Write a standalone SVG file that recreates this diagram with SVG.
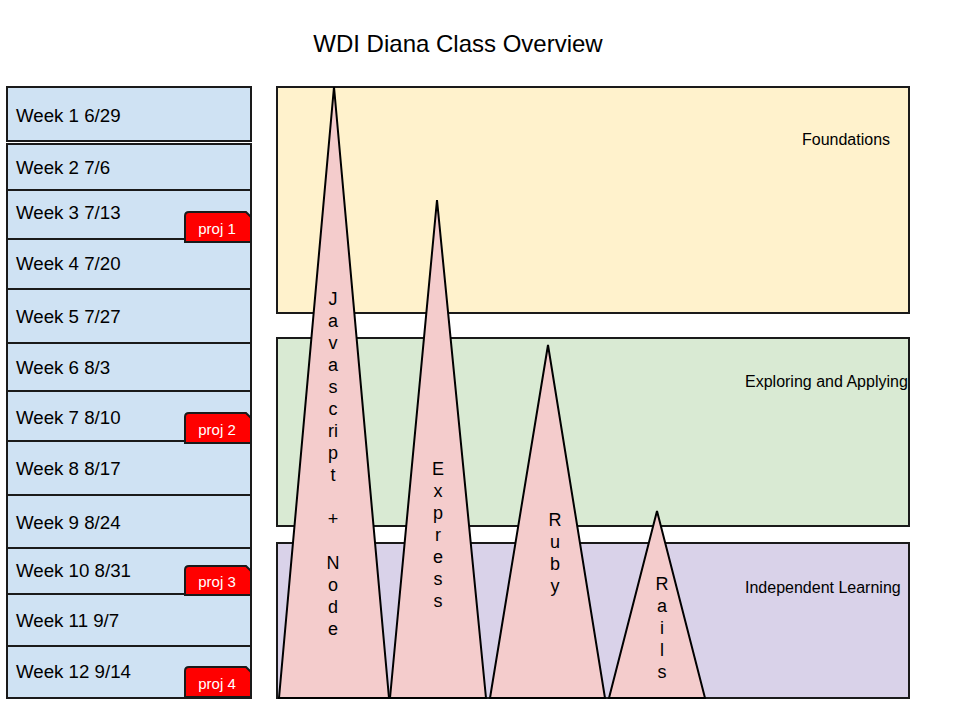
<svg xmlns="http://www.w3.org/2000/svg" width="960" height="720" viewBox="0 0 960 720">
<style>
text{font-family:"Liberation Sans",Arial,sans-serif;fill:#000}
.wk{fill:#cfe2f3;stroke:#1a1a1a;stroke-width:2}
.wt{font-size:18.7px}
.pj{fill:#ff0000;stroke:#1a1a1a;stroke-width:2}
.pt{font-size:15px;fill:#fff;text-anchor:middle}
.band{stroke:#1a1a1a;stroke-width:2}
.bt{font-size:16px}
.tri{fill:#f4cccc;stroke:#000;stroke-width:2;stroke-linejoin:miter}
.vt{font-size:18px;text-anchor:middle}
</style>
<rect width="960" height="720" fill="#fff"/>
<text x="458" y="52" font-size="24" text-anchor="middle">WDI Diana Class Overview</text>

<g id="bands">
<g id="foundations"><rect class="band" x="277" y="87" width="632" height="226" fill="#fff2cc"/><text class="bt" x="846" y="145" text-anchor="middle">Foundations</text></g>
<g id="exploring"><rect class="band" x="277" y="338" width="632" height="188" fill="#d9ead3"/><text class="bt" x="745" y="387">Exploring and Applying</text></g>
<g id="independent"><rect class="band" x="277" y="543" width="632" height="155" fill="#d9d2e9"/><text class="bt" x="745" y="593">Independent Learning</text></g>
</g>

<g id="weeks">
<g id="week1"><rect class="wk" x="7" y="87" width="244" height="54"/><text class="wt" x="16" y="122">Week 1 6/29</text></g>
<g id="week2"><rect class="wk" x="7" y="144" width="244" height="46"/><text class="wt" x="16" y="174">Week 2 7/6</text></g>
<g id="week3"><rect class="wk" x="7" y="190" width="244" height="49"/><text class="wt" x="16" y="219">Week 3 7/13</text></g>
<g id="week4"><rect class="wk" x="7" y="239" width="244" height="50"/><text class="wt" x="16" y="270">Week 4 7/20</text></g>
<g id="week5"><rect class="wk" x="7" y="289" width="244" height="54"/><text class="wt" x="16" y="323">Week 5 7/27</text></g>
<g id="week6"><rect class="wk" x="7" y="343" width="244" height="48"/><text class="wt" x="16" y="374">Week 6 8/3</text></g>
<g id="week7"><rect class="wk" x="7" y="391" width="244" height="50"/><text class="wt" x="16" y="424">Week 7 8/10</text></g>
<g id="week8"><rect class="wk" x="7" y="441" width="244" height="54"/><text class="wt" x="16" y="475">Week 8 8/17</text></g>
<g id="week9"><rect class="wk" x="7" y="495" width="244" height="53"/><text class="wt" x="16" y="529">Week 9 8/24</text></g>
<g id="week10"><rect class="wk" x="7" y="548" width="244" height="46"/><text class="wt" x="16" y="577">Week 10 8/31</text></g>
<g id="week11"><rect class="wk" x="7" y="594" width="244" height="52"/><text class="wt" x="16" y="627">Week 11 9/7</text></g>
<g id="week12"><rect class="wk" x="7" y="646" width="244" height="52"/><text class="wt" x="16" y="678">Week 12 9/14</text></g>
</g>

<g id="projects">
<g id="proj1"><path class="pj" d="M185 242 V216 Q185 212 189 212 H246 L251 217 V242 Z"/><text class="pt" x="217" y="234">proj 1</text></g>
<g id="proj2"><path class="pj" d="M185 443 V417 Q185 413 189 413 H246 L251 418 V443 Z"/><text class="pt" x="217" y="435">proj 2</text></g>
<g id="proj3"><path class="pj" d="M185 595 V570 Q185 566 189 566 H246 L251 571 V595 Z"/><text class="pt" x="217" y="587">proj 3</text></g>
<g id="proj4"><path class="pj" d="M185 697 V671 Q185 667 189 667 H246 L251 672 V697 Z"/><text class="pt" x="217" y="689">proj 4</text></g>
</g>

<g id="js"><polygon class="tri" points="334,87 389,698 279,698"/>
<text class="vt">
<tspan x="333" y="305">J</tspan><tspan x="333" y="327">a</tspan><tspan x="333" y="349">v</tspan><tspan x="333" y="371">a</tspan><tspan x="333" y="393">s</tspan><tspan x="333" y="415">c</tspan><tspan x="333" y="437">ri</tspan><tspan x="333" y="459">p</tspan><tspan x="333" y="481">t</tspan><tspan x="333" y="525">+</tspan><tspan x="333" y="569">N</tspan><tspan x="333" y="591">o</tspan><tspan x="333" y="613">d</tspan><tspan x="333" y="635">e</tspan>
</text></g>
<g id="express"><polygon class="tri" points="437,200 486,698 390,698"/>
<text class="vt"><tspan x="438" y="475">E</tspan><tspan x="438" y="497">x</tspan><tspan x="438" y="519">p</tspan><tspan x="438" y="541">r</tspan><tspan x="438" y="563">e</tspan><tspan x="438" y="585">s</tspan><tspan x="438" y="607">s</tspan></text></g>
<g id="ruby"><polygon class="tri" points="548,345 605,698 490,698"/>
<text class="vt"><tspan x="555" y="526">R</tspan><tspan x="555" y="548">u</tspan><tspan x="555" y="570">b</tspan><tspan x="555" y="592">y</tspan></text></g>
<g id="rails"><polygon class="tri" points="657,511 705,698 609,698"/>
<text class="vt"><tspan x="662" y="590">R</tspan><tspan x="662" y="612">a</tspan><tspan x="662" y="634">i</tspan><tspan x="662" y="656">l</tspan><tspan x="662" y="678">s</tspan></text></g>
</svg>
